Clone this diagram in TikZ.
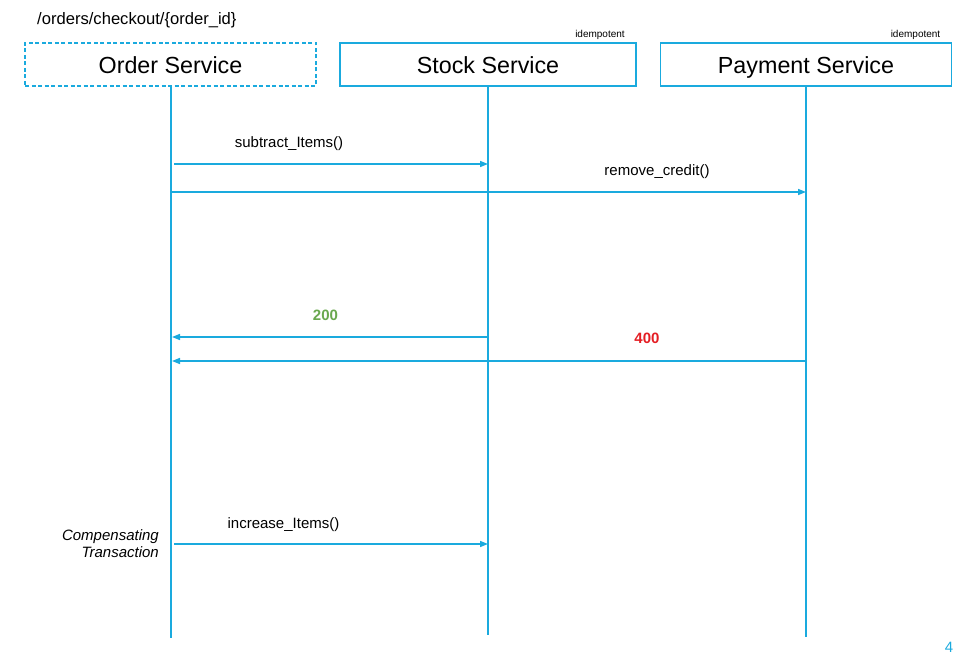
\documentclass[tikz,border=0pt]{standalone}
\usepackage{fontspec}
\setmainfont{Liberation Sans}
\usetikzlibrary{arrows.meta}
\definecolor{lineblue}{RGB}{26,170,222}
\definecolor{okgreen}{RGB}{106,168,79}
\definecolor{errred}{RGB}{228,30,36}
\tikzset{
  service/.style={draw=lineblue, line width=1.3pt, minimum height=43pt, inner sep=0pt,
    text height=18pt, text depth=0pt, font=\fontsize{23.3}{28}\selectfont},
  lifeline/.style={draw=lineblue, line width=1.5pt},
  msg/.style={draw=lineblue, line width=1.5pt, -{Triangle[length=8pt,width=6pt]}},
  msgtext/.style={font=\fontsize{15}{17}\selectfont, inner sep=0pt, anchor=base},
  smalltext/.style={font=\fontsize{10}{12}\selectfont, inner sep=0pt, anchor=base}
}
\begin{document}
\begin{tikzpicture}[x=1pt,y=-1pt]
            \useasboundingbox (0,0) rectangle (977,668);

            % services
            \node[service,dash pattern=on 4pt off 2.5pt,minimum width=291pt] (order) at (170.5,64.5) {Order Service};
            \node[service,minimum width=296pt] (stock) at (488,64.5) {Stock Service};
            \node[service,minimum width=291pt] (payment) at (806,64.5) {Payment Service};
            \node[msgtext,font=\fontsize{16.6}{20}\selectfont,anchor=base west] (endpoint) at (37,25) {/orders/checkout/\{order\_id\}};
            \node[smalltext] (stockidem) at (600,38) {idempotent};
            \node[smalltext] (payidem) at (915.5,38) {idempotent};

            % lifelines
            \coordinate (orderEnd) at (171,637.5);
            \coordinate (stockEnd) at (488,635);
            \coordinate (paymentEnd) at (806,636.5);
            \draw[lifeline] (order.south -| orderEnd) -- (orderEnd);
            \draw[lifeline] (stock.south) -- (stockEnd);
            \draw[lifeline] (payment.south) -- (paymentEnd);

            % messages
            \coordinate (o1) at (174,164);
            \coordinate (s1) at (488,164);
            \coordinate (o2) at (171,192);
            \coordinate (p2) at (806,192);
            \coordinate (s3) at (488,337);
            \coordinate (o3) at (172,337);
            \coordinate (p4) at (806,361);
            \coordinate (o4) at (172,361);
            \coordinate (o5) at (174,544);
            \coordinate (s5) at (488,544);
            \draw[msg] (o1) -- (s1);
            \draw[msg] (o2) -- (p2);
            \draw[msg] (s3) -- (o3);
            \draw[msg] (p4) -- (o4);
            \draw[msg] (o5) -- (s5);

            % labels
            \node[msgtext] (subtract) at (289,147.5) {subtract\_Items()};
            \node[msgtext] (remove) at (657,176) {remove\_credit()};
            \node[msgtext,text=okgreen,font=\fontsize{15}{17}\selectfont\bfseries] (ok) at (325.5,320.5) {200};
            \node[msgtext,text=errred,font=\fontsize{15}{17}\selectfont\bfseries] (fail) at (647,343) {400};
            \node[msgtext] (increase) at (283.5,528.5) {increase\_Items()};
            \node[msgtext,font=\fontsize{15}{17}\selectfont\itshape,align=right,anchor=base east] (comp) at (159,557.7) {Compensating\\Transaction};
            \node[msgtext,text=lineblue] (pagenum) at (949,652.5) {4};
        \end{tikzpicture}
\end{document}
